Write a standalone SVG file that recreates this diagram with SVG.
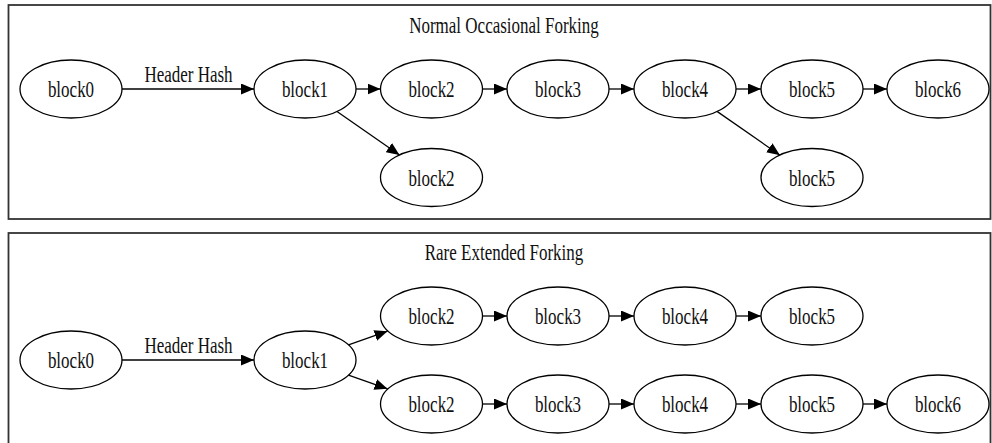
<svg xmlns="http://www.w3.org/2000/svg" width="992" height="443" viewBox="0 0 992 443" font-family="'Liberation Serif', 'Times New Roman', 'DejaVu Serif', serif">
  <style>
    .frame { fill: #ffffff; stroke: #333333; stroke-width: 1.8; }
    .node ellipse { fill: #ffffff; stroke: #000000; stroke-width: 1.3; }
    .lbl { font-family: "Liberation Serif", "Times New Roman", "DejaVu Serif", serif; font-size: 17px; fill: #111111; text-anchor: middle; }
    .edges line { stroke: #000000; stroke-width: 1.3; marker-end: url(#arrow); }
  </style>
  <defs>
    <marker id="arrow" viewBox="0 0 13 11" refX="13" refY="5.5" markerWidth="13" markerHeight="11" markerUnits="userSpaceOnUse" orient="auto">
      <path d="M0,0 L13,5.5 L0,11 Z" fill="#000000"/>
    </marker>
  </defs>
  <rect width="992" height="443" fill="#ffffff"/>

  <!-- Cluster 1: Normal Occasional Forking -->
  <g id="cluster-normal">
    <rect class="frame" x="8.5" y="5" width="982" height="214"/>
    <text class="lbl" transform="translate(504,33) scale(1,1.38)">Normal Occasional Forking</text>
  </g>

  <g id="edges-normal" class="edges">
    <line x1="122" y1="89" x2="254" y2="89"/>
    <line x1="356" y1="89" x2="380.5" y2="89"/>
    <line x1="482.5" y1="89" x2="507" y2="89"/>
    <line x1="609" y1="89" x2="634" y2="89"/>
    <line x1="736" y1="89" x2="761" y2="89"/>
    <line x1="863" y1="89" x2="887" y2="89"/>
    <line x1="337" y1="111.5" x2="399.5" y2="155"/>
    <line x1="717" y1="111.4" x2="780" y2="155.2"/>
    <text class="lbl" transform="translate(188.5,82) scale(1,1.38)">Header Hash</text>
  </g>

  <g id="n-block0" class="node"><ellipse cx="71" cy="89" rx="51" ry="29"/><text class="lbl" transform="translate(71,97) scale(1,1.38)">block0</text></g>
  <g id="n-block1" class="node"><ellipse cx="305" cy="89" rx="51" ry="29"/><text class="lbl" transform="translate(305,97) scale(1,1.38)">block1</text></g>
  <g id="n-block2" class="node"><ellipse cx="431.5" cy="89" rx="51" ry="29"/><text class="lbl" transform="translate(431.5,97) scale(1,1.38)">block2</text></g>
  <g id="n-block3" class="node"><ellipse cx="558" cy="89" rx="51" ry="29"/><text class="lbl" transform="translate(558,97) scale(1,1.38)">block3</text></g>
  <g id="n-block4" class="node"><ellipse cx="685" cy="89" rx="51" ry="29"/><text class="lbl" transform="translate(685,97) scale(1,1.38)">block4</text></g>
  <g id="n-block5" class="node"><ellipse cx="812" cy="89" rx="51" ry="29"/><text class="lbl" transform="translate(812,97) scale(1,1.38)">block5</text></g>
  <g id="n-block6" class="node"><ellipse cx="938" cy="89" rx="51" ry="29"/><text class="lbl" transform="translate(938,97) scale(1,1.38)">block6</text></g>
  <g id="n-block2-fork" class="node"><ellipse cx="431.5" cy="177.5" rx="51" ry="29"/><text class="lbl" transform="translate(431.5,185.5) scale(1,1.38)">block2</text></g>
  <g id="n-block5-fork" class="node"><ellipse cx="812" cy="177.5" rx="51" ry="29"/><text class="lbl" transform="translate(812,185.5) scale(1,1.38)">block5</text></g>

  <!-- Cluster 2: Rare Extended Forking -->
  <g id="cluster-rare">
    <rect class="frame" x="8.5" y="233" width="982" height="213"/>
    <text class="lbl" transform="translate(504,260) scale(1,1.38)">Rare Extended Forking</text>
  </g>

  <g id="edges-rare" class="edges">
    <line x1="122" y1="360" x2="254" y2="360"/>
    <line x1="348.5" y1="344.8" x2="387.5" y2="331.2"/>
    <line x1="348.5" y1="375.2" x2="387.5" y2="388.8"/>
    <line x1="482.5" y1="316" x2="507" y2="316"/>
    <line x1="609" y1="316" x2="634" y2="316"/>
    <line x1="736" y1="316" x2="761" y2="316"/>
    <line x1="482.5" y1="404" x2="507" y2="404"/>
    <line x1="609" y1="404" x2="634" y2="404"/>
    <line x1="736" y1="404" x2="761" y2="404"/>
    <line x1="863" y1="404" x2="887" y2="404"/>
    <text class="lbl" transform="translate(188.5,353) scale(1,1.38)">Header Hash</text>
  </g>

  <g id="r-block0" class="node"><ellipse cx="71" cy="360" rx="51" ry="29"/><text class="lbl" transform="translate(71,368) scale(1,1.38)">block0</text></g>
  <g id="r-block1" class="node"><ellipse cx="305" cy="360" rx="51" ry="29"/><text class="lbl" transform="translate(305,368) scale(1,1.38)">block1</text></g>
  <g id="r-a-block2" class="node"><ellipse cx="431.5" cy="316" rx="51" ry="29"/><text class="lbl" transform="translate(431.5,324) scale(1,1.38)">block2</text></g>
  <g id="r-a-block3" class="node"><ellipse cx="558" cy="316" rx="51" ry="29"/><text class="lbl" transform="translate(558,324) scale(1,1.38)">block3</text></g>
  <g id="r-a-block4" class="node"><ellipse cx="685" cy="316" rx="51" ry="29"/><text class="lbl" transform="translate(685,324) scale(1,1.38)">block4</text></g>
  <g id="r-a-block5" class="node"><ellipse cx="812" cy="316" rx="51" ry="29"/><text class="lbl" transform="translate(812,324) scale(1,1.38)">block5</text></g>
  <g id="r-b-block2" class="node"><ellipse cx="431.5" cy="404" rx="51" ry="29"/><text class="lbl" transform="translate(431.5,412) scale(1,1.38)">block2</text></g>
  <g id="r-b-block3" class="node"><ellipse cx="558" cy="404" rx="51" ry="29"/><text class="lbl" transform="translate(558,412) scale(1,1.38)">block3</text></g>
  <g id="r-b-block4" class="node"><ellipse cx="685" cy="404" rx="51" ry="29"/><text class="lbl" transform="translate(685,412) scale(1,1.38)">block4</text></g>
  <g id="r-b-block5" class="node"><ellipse cx="812" cy="404" rx="51" ry="29"/><text class="lbl" transform="translate(812,412) scale(1,1.38)">block5</text></g>
  <g id="r-b-block6" class="node"><ellipse cx="938" cy="404" rx="51" ry="29"/><text class="lbl" transform="translate(938,412) scale(1,1.38)">block6</text></g>
</svg>
